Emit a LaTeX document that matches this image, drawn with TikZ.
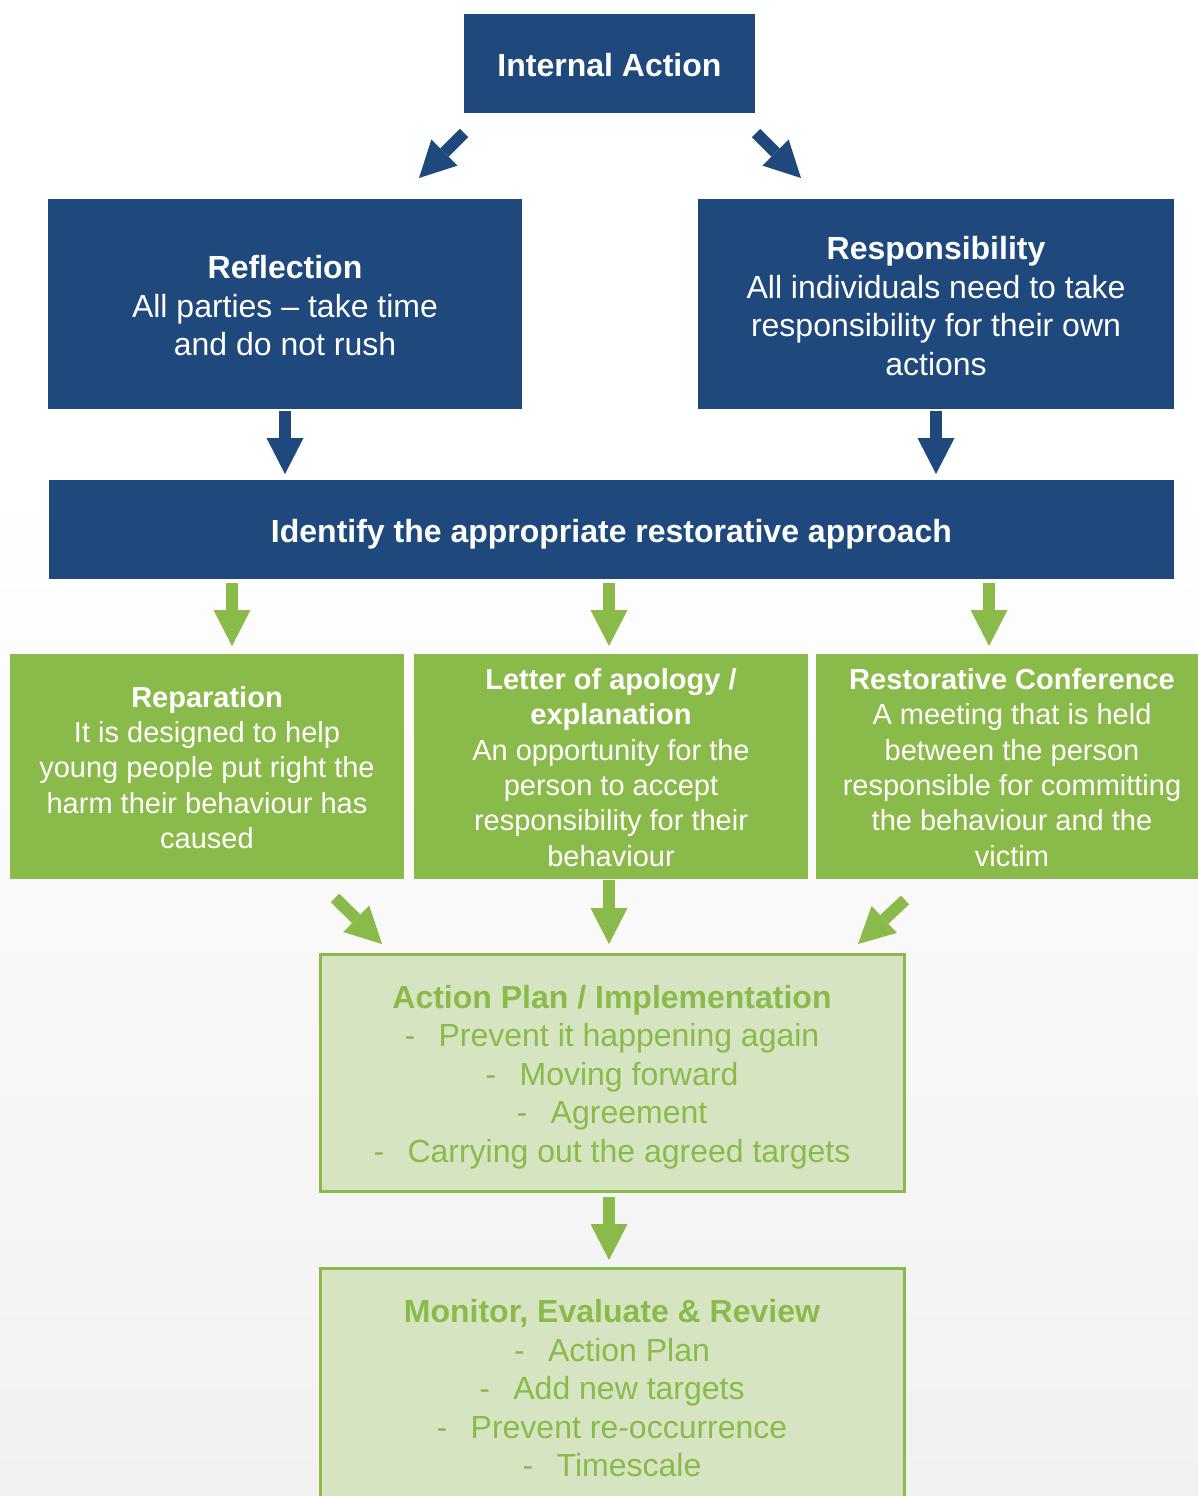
\documentclass[tikz,border=0pt]{standalone}
\usepackage{fontspec}
\setmainfont{Liberation Sans}
\usetikzlibrary{arrows.meta,calc}
\definecolor{dblue}{HTML}{1F497D}
\definecolor{mgreen}{HTML}{8ABB4A}
\definecolor{lgreen}{HTML}{D7E4C2}
\definecolor{bggray}{HTML}{F1F1F1}
\newcommand\apdash{\makebox[34pt][l]{-}}
% shift the text of a node down by half of #1
\newcommand\dnshift[2]{\raisebox{0pt}[\dimexpr\height+#1\relax]{#2}}
\begin{document}
\begin{tikzpicture}[x=1pt,y=-1pt,
 boxbase/.style={align=center, inner sep=0pt, outer sep=0pt, anchor=north west},
 bluebox/.style={boxbase, fill=dblue, text=white, font=\fontsize{32}{38.5}\selectfont},
 greenbox/.style={boxbase, fill=mgreen, text=white, font=\fontsize{29}{35.3}\selectfont},
 lightbox/.style={boxbase, fill=lgreen, draw=mgreen, line width=3pt, text=mgreen, font=\fontsize{32}{38.5}\selectfont},
 barrow/.style={draw=dblue, line width=12pt, -{Triangle[width=37pt,length=36pt,line width=0pt]}},
 garrow/.style={draw=mgreen, line width=12pt, -{Triangle[width=37pt,length=36pt,line width=0pt]}},
]
\useasboundingbox (0,0) rectangle (1198,1496);
\clip (0,0) rectangle (1198,1496);
\fill[white] (0,0) rectangle (1198,480);
\shade[top color=white, bottom color=bggray] (0,480) rectangle (1198,1496);

% boxes
\node[bluebox, minimum width=291pt, minimum height=99pt] (ia) at (464,14) {\dnshift{4pt}{\textbf{Internal Action}}};
\node[bluebox, minimum width=474pt, minimum height=210pt] (refl) at (48,199)
  {\dnshift{4pt}{\textbf{Reflection}}\\All parties – take time\\and do not rush};
\node[bluebox, minimum width=476pt, minimum height=210pt] (resp) at (698,199)
  {\dnshift{4pt}{\textbf{Responsibility}}\\All individuals need to take\\responsibility for their own\\actions};
\node[bluebox, minimum width=1125pt, minimum height=99pt] (ident) at (49,480)
  {\dnshift{10pt}{\textbf{Identify the appropriate restorative approach}}};

\node[greenbox, minimum width=394pt, minimum height=225pt] (rep) at (10,654)
  {\dnshift{2pt}{\textbf{Reparation}}\\It is designed to help\\young people put right the\\harm their behaviour has\\caused};
\node[greenbox, minimum width=394pt, minimum height=225pt] (letter) at (414,654)
  {\dnshift{2pt}{\textbf{Letter of apology /}}\\\textbf{explanation}\\An opportunity for the\\person to accept\\responsibility for their\\behaviour};
\node[greenbox, minimum width=392pt, minimum height=225pt] (rest) at (816,654)
  {\dnshift{2pt}{\textbf{Restorative Conference}}\\A meeting that is held\\between the person\\responsible for committing\\the behaviour and the\\victim};

\node[lightbox, minimum width=584pt, minimum height=237pt] (ap) at (320,954)
  {\dnshift{9pt}{\textbf{Action Plan / Implementation}}\\\apdash Prevent it happening again\\\apdash Moving forward\\\apdash Agreement\\\apdash Carrying out the agreed targets};
\node[lightbox, minimum width=584pt, minimum height=237pt] (mon) at (320,1268)
  {\dnshift{4pt}{\textbf{Monitor, Evaluate \& Review}}\\\apdash Action Plan\\\apdash Add new targets\\\apdash Prevent re-occurrence\\\apdash Timescale};

% arrows
\draw[barrow] ($(ia.south west)+(0,20)$) -- ($(refl.north east)+(-103,-21)$);
\draw[barrow] ($(ia.south east)+(1,20)$) -- ($(resp.north west)+(103,-21)$);
\draw[barrow] ([yshift=-2pt]refl.south) -- ([yshift=6pt]refl.south |- ident.north);
\draw[barrow] ([yshift=-2pt]resp.south) -- ([yshift=6pt]resp.south |- ident.north);

\draw[garrow] ($(ident.south west)+(183,4)$) -- ($(rep.north west)+(222,-8)$);
\draw[garrow] ($(ident.south west)+(560,4)$) -- ($(letter.north west)+(195,-8)$);
\draw[garrow] ($(ident.south west)+(940,4)$) -- ($(rest.north west)+(173,-8)$);

\draw[garrow] ($(rep.south east)+(-69,19)$) -- ($(ap.north west)+(62,-10)$);
\draw[garrow] ($(letter.south west)+(195,1)$) -- ($(ap.north west)+(289,-10)$);
\draw[garrow] ($(rest.south west)+(89,21)$) -- ($(ap.north east)+(-46,-10)$);

\draw[garrow] ($(ap.south west)+(289,6)$) -- ($(mon.north west)+(289,-8)$);
\end{tikzpicture}
\end{document}
